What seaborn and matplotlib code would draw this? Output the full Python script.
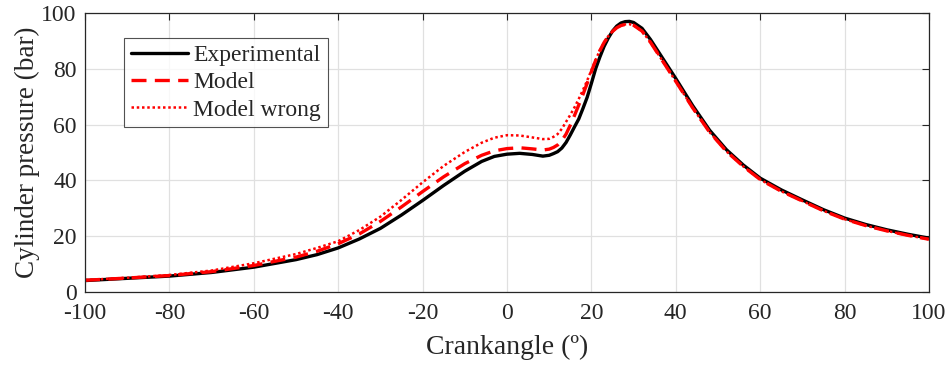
import numpy as np
import pandas as pd
import matplotlib
matplotlib.use("Agg")
import matplotlib.pyplot as plt
import seaborn as sns

# Crank angle (deg) at which pressures are sampled
crank_angle = [-100, -90, -80, -70, -60, -50, -45, -40, -35, -30, -25, -20, -15, -10, -6, -3,
               0, 3, 6, 8.5, 10, 11, 12, 13, 14, 15,
               16, 17, 18, 19, 20, 21, 22, 23, 24, 25,
               26, 27, 28, 29, 30,
               32, 34, 37, 40, 44, 48, 52, 56, 60,
               65, 70, 75, 80, 85, 90, 95, 100]

# Cylinder pressure (bar)
p_experimental = [4.1, 4.9, 5.7, 7.0, 8.9, 11.6, 13.4, 15.8, 19.0, 22.8, 27.6, 32.8, 38.2, 43.3, 46.8, 48.6,
                  49.4, 49.7, 49.3, 48.7, 49.0, 49.6, 50.3, 51.6, 53.6, 56.3,
                  59.2, 62.0, 65.8, 69.8, 74.8, 80.0, 84.2, 88.0, 91.0, 93.5,
                  95.3, 96.4, 96.9, 97.0, 96.6,
                  94.5, 90.5, 83.5, 76.5, 66.8, 58.0, 51.0, 45.5, 40.8,
                  36.6, 33.0, 29.5, 26.5, 24.2, 22.3, 20.7, 19.3]
p_model = [4.2, 5.0, 5.9, 7.3, 9.5, 12.5, 14.6, 17.3, 20.8, 25.3, 30.5, 36.0, 41.3, 46.0, 49.0, 50.6,
           51.4, 51.7, 51.3, 50.9, 51.2, 51.8, 52.7, 54.3, 56.6, 59.8,
           63.3, 67.0, 70.8, 74.8, 79.0, 83.0, 86.5, 89.4, 91.7, 93.4,
           94.7, 95.5, 95.9, 96.0, 95.6,
           93.5, 89.5, 82.5, 75.5, 66.0, 57.3, 50.4, 45.0, 40.3,
           36.1, 32.6, 29.1, 26.1, 23.8, 21.9, 20.3, 18.9]
p_model_wrong = [4.3, 5.1, 6.1, 7.7, 10.3, 13.6, 15.8, 18.2, 22.2, 27.0, 33.0, 39.3, 45.2, 50.2, 53.5, 55.3,
                 56.2, 56.1, 55.4, 54.8, 54.9, 55.6, 56.6, 58.5, 61.0, 63.5,
                 66.2, 69.2, 72.4, 75.8, 79.5, 83.2, 86.6, 89.4, 91.7, 93.4,
                 94.7, 95.5, 95.9, 96.0, 95.6,
                 93.5, 89.5, 82.5, 75.5, 66.0, 57.3, 50.4, 45.0, 40.3,
                 36.1, 32.6, 29.1, 26.1, 23.8, 21.9, 20.3, 18.9]

x_ticks = [-100, -80, -60, -40, -20, 0, 20, 40, 60, 80, 100]
y_ticks = [0, 20, 40, 60, 80, 100]

sns.set_style("white")
plt.rcParams["font.family"] = ["Liberation Serif", "DejaVu Serif"]
plt.rcParams["axes.unicode_minus"] = False

dark = "#262626"
fig = plt.figure(figsize=(9.49, 3.68), dpi=100)
ax = fig.add_axes([85 / 949, 76 / 368, 844 / 949, 279 / 368])

df = pd.DataFrame({"angle": crank_angle, "exp": p_experimental,
                   "model": p_model, "wrong": p_model_wrong})

sns.lineplot(data=df, x="angle", y="exp", ax=ax, color="black", linewidth=2.4,
             label="Experimental")
sns.lineplot(data=df, x="angle", y="model", ax=ax, color="red", linewidth=2.4,
             label="Model")
ax.lines[-1].set_dashes((4.5, 2.5))
sns.lineplot(data=df, x="angle", y="wrong", ax=ax, color="red", linewidth=1.8,
             label="Model wrong")
ax.lines[-1].set_linestyle((0, (1, 1.1)))

ax.set_xlim(-100, 100)
ax.set_ylim(0, 100)
ax.set_xticks(x_ticks)
ax.set_xticklabels([str(t) for t in x_ticks])
ax.set_yticks(y_ticks)
ax.set_yticklabels([str(t) for t in y_ticks])
ax.grid(True, color="#e0e0e0", linewidth=0.9)
ax.set_axisbelow(True)
ax.tick_params(direction="in", length=5, width=0.8, colors=dark, labelsize=17,
               top=True, right=True)
ax.tick_params(axis="x", pad=8)
ax.tick_params(axis="y", pad=6)
for s in ax.spines.values():
    s.set_visible(True)
    s.set_color(dark)
    s.set_linewidth(0.9)

ax.set_xlabel("Crankangle (º)", fontsize=20, color=dark, labelpad=8)
ax.set_ylabel("Cylinder pressure (bar)", fontsize=19.5, color=dark, labelpad=1)

leg = ax.legend(loc="upper left", bbox_to_anchor=(39 / 844, 1 - 25 / 279),
                fontsize=17, frameon=True, fancybox=False, edgecolor=dark,
                handlelength=2.45, handletextpad=0.2, borderpad=0.28,
                labelspacing=0.24, borderaxespad=0)
leg.get_frame().set_linewidth(0.8)

fig.savefig("out.png", dpi=100, facecolor="white")
